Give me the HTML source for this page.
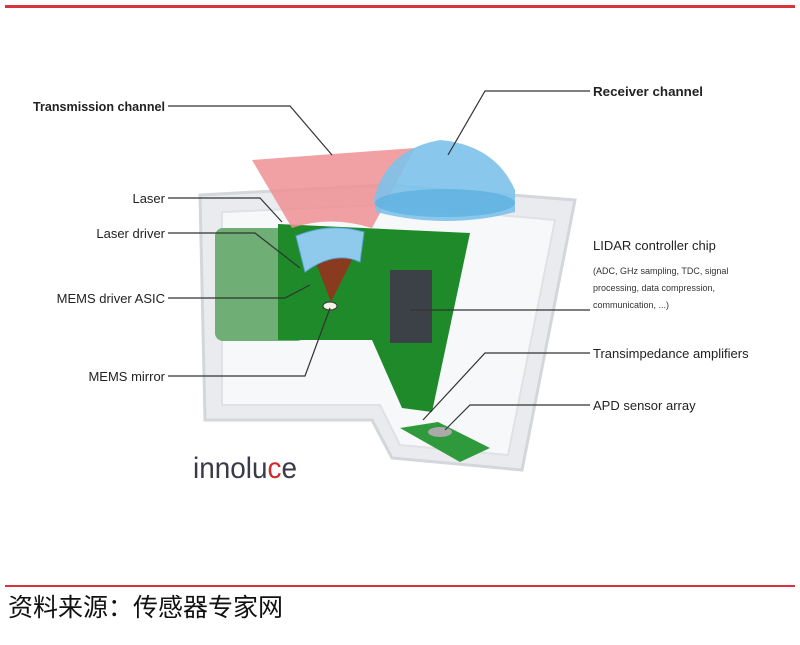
<!DOCTYPE html>
<html><head><meta charset="utf-8"><style>
body{margin:0;width:800px;height:640px;background:#fff;overflow:hidden;font-family:"Liberation Sans","Noto Sans CJK SC",sans-serif}
</style></head><body>
<svg width="800" height="640" viewBox="0 0 800 640" xmlns="http://www.w3.org/2000/svg">
<rect x="5" y="5" width="790" height="3" fill="#d9343c"/>
<!-- housing -->
<path d="M200,195 L385,185 L575,200 L522,470 L392,458 L372,420 L205,420 Z" fill="#e9ebee" stroke="#d3d6da" stroke-width="3"/>
<path d="M222,212 L385,205 L555,220 L508,455 L400,445 L380,405 L222,405 Z" fill="#f7f8f9" stroke="#dfe2e5" stroke-width="2"/>
<!-- green board -->
<rect x="215" y="228" width="90" height="113" rx="8" fill="#6fae74"/>
<path d="M278,224 L470,233 L432,412 L402,408 L372,340 L278,340 Z" fill="#1e8a2a"/>
<rect x="390" y="270" width="42" height="73" fill="#3b4147"/>
<!-- red transmission -->
<path d="M252,160 L415,148 L372,228 Q330,215 292,228 Z" fill="#ee8f93" opacity="0.85"/>
<!-- brown cone -->
<path d="M314,258 L356,252 L331,302 Z" fill="#8a3a1e"/>
<ellipse cx="330" cy="306" rx="7" ry="4" fill="#f2f2e6" stroke="#333" stroke-width="1"/>
<!-- small lens -->
<path d="M296,236 Q330,222 364,232 L360,262 Q335,250 305,272 Z" fill="#8fcaec" stroke="#5aa6d8"/>
<!-- blue dome -->
<path d="M374,200 Q385,150 440,140 Q495,145 515,190 L515,212 Q448,230 376,212 Z" fill="#7cc2ea" opacity="0.9"/>
<ellipse cx="445" cy="203" rx="70" ry="14" fill="#5aaee0" opacity="0.7"/>
<!-- APD board -->
<path d="M400,428 L438,422 L490,448 L460,462 Z" fill="#2f9a3c"/>
<ellipse cx="440" cy="432" rx="12" ry="5" fill="#aaa"/>
<!-- leaders -->
<g fill="none" stroke="#333" stroke-width="1.2">
<path d="M168,106 L290,106 L332,155"/>
<path d="M590,91 L485,91 L448,155"/>
<path d="M168,198 L260,198 L282,222"/>
<path d="M168,233 L255,233 L300,268"/>
<path d="M168,298 L285,298 L310,285"/>
<path d="M168,376 L305,376 L330,308"/>
<path d="M410,310 L590,310"/>
<path d="M590,353 L485,353 L423,420"/>
<path d="M590,405 L470,405 L445,430"/>
</g>
<g font-size="13" fill="#222">
<text x="33" y="111" font-weight="bold" textLength="132" lengthAdjust="spacingAndGlyphs">Transmission channel</text>
<text x="593" y="96" font-weight="bold" textLength="110" lengthAdjust="spacingAndGlyphs">Receiver channel</text>
<text x="165" y="203" text-anchor="end">Laser</text>
<text x="165" y="238" text-anchor="end">Laser driver</text>
<text x="165" y="303" text-anchor="end">MEMS driver ASIC</text>
<text x="165" y="381" text-anchor="end">MEMS mirror</text>
<text x="593" y="250">LIDAR controller chip</text>
<text x="593" y="358">Transimpedance amplifiers</text>
<text x="593" y="410">APD sensor array</text>
</g>
<g font-size="9" fill="#333">
<text x="593" y="274">(ADC, GHz sampling, TDC, signal</text>
<text x="593" y="291">processing, data compression,</text>
<text x="593" y="308">communication, ...)</text>
</g>
<text x="193" y="478" font-size="30" fill="#3a3a4a" textLength="104" lengthAdjust="spacingAndGlyphs">innolu<tspan fill="#d02a2a">c</tspan>e</text>
<rect x="5" y="585" width="790" height="2" fill="#d9343c"/>
<text x="8" y="616" font-size="25" fill="#111">资料来源：传感器专家网</text>
</svg>
</body></html>
